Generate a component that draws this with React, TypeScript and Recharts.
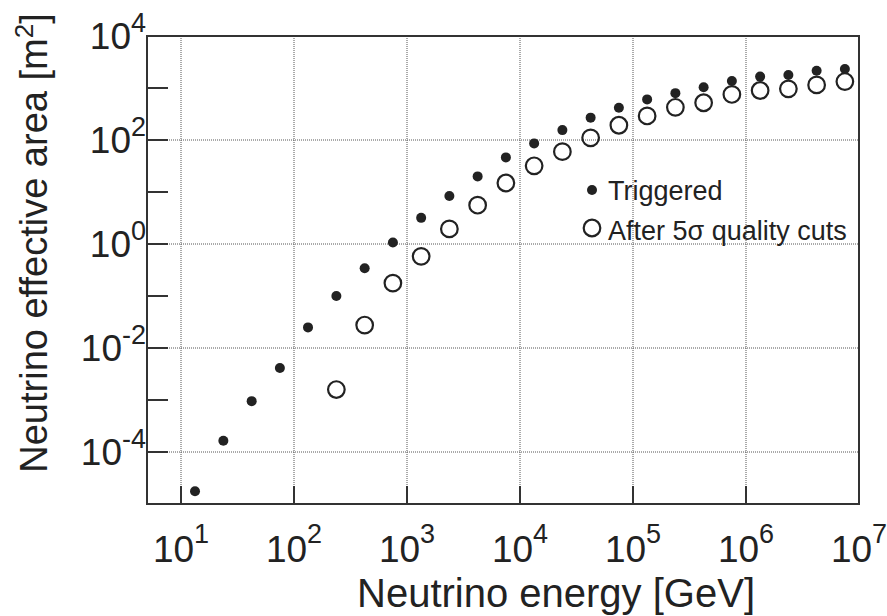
import React from 'react';
import { ScatterChart, Scatter, XAxis, YAxis, CartesianGrid, ReferenceArea, Legend } from 'recharts';

// bin centres, GeV
const energyGeV = [
  13.3, 23.7, 42.2, 75, 133, 237, 422, 750, 1334, 2371, 4217, 7499,
  13335, 23714, 42170, 74989, 133352, 237137, 421697, 749894, 1333521, 2371374, 4216965, 7498942,
];
// effective area, m^2
const triggeredArea = [
  1.76e-5, 1.65e-4, 9.5e-4, 4.13e-3, 0.0249, 0.1, 0.341, 1.07, 3.18, 8.37, 19.95, 46.3,
  86.1, 155, 269, 418, 604, 796, 1035, 1365, 1656, 1778, 2153, 2312,
];
const cutEnergyGeV = [
  237, 422, 750, 1334, 2371, 4217, 7499, 13335, 23714, 42170,
  74989, 133352, 237137, 421697, 749894, 1333521, 2371374, 4216965, 7498942,
];
const cutArea = [
  1.59e-3, 0.0276, 0.177, 0.578, 1.95, 5.58, 14.9, 31.9, 59.7, 110,
  192, 290, 425, 520, 752, 895, 962, 1146, 1330,
];

const seriesNames = ['Triggered', 'After 5σ quality cuts'];
const xTicks = [10, 100, 1e3, 1e4, 1e5, 1e6, 1e7];
const yTicks = [1e-4, 1e-3, 1e-2, 1e-1, 1, 10, 100, 1e3, 1e4];
const yGrid = [1e-4, 1e-2, 1, 100];
const xGrid = [10, 100, 1e3, 1e4, 1e5, 1e6];
const xDomain = [5, 1e7];
const yDomain = [1e-5, 1e4];

const triggeredData = energyGeV.map((e, i) => ({ energy: e, area: triggeredArea[i] }));
const cutData = cutEnergyGeV.map((e, i) => ({ energy: e, area: cutArea[i] }));

const INK = '#222';
const FONT = '"Liberation Sans", Arial, sans-serif';

function XTick(props: any) {
  const { x, y, payload } = props;
  const exp = Math.round(Math.log10(payload.value));
  return (
    <g>
      {exp < 7 && <line x1={x} x2={x} y1={y} y2={y - 18} stroke="#333" strokeWidth={2} />}
      <text x={x} y={y + 58} textAnchor="middle" fontSize={37} fill={INK} fontFamily={FONT}>
        10<tspan dy={-19} fontSize={27}>{exp}</tspan>
      </text>
    </g>
  );
}

function YTick(props: any) {
  const { x, y, payload } = props;
  const exp = Math.round(Math.log10(payload.value));
  return (
    <g>
      {exp < 4 && <line x1={x} x2={x + 21} y1={y} y2={y} stroke="#333" strokeWidth={2} />}
      {exp % 2 === 0 && (
        <text x={x - 1} y={y + 13} textAnchor="end" fontSize={37} fill={INK} fontFamily={FONT}>
          10<tspan dy={-17} fontSize={27}>{exp}</tspan>
        </text>
      )}
    </g>
  );
}

function XTitle() {
  return (
    <text x={556} y={607} textAnchor="middle" fontSize={40} fill={INK} fontFamily={FONT}>
      Neutrino energy [GeV]
    </text>
  );
}

function YTitle() {
  return (
    <text x={47} y={243} transform="rotate(-90 47 243)" textAnchor="middle" fontSize={38} fill={INK} fontFamily={FONT}>
      Neutrino effective area [m<tspan dy={-14} fontSize={26}>2</tspan><tspan dy={14}>]</tspan>
    </text>
  );
}

function LegendBox() {
  return (
    <svg width={290} height={80} style={{ display: 'block' }}>
      <circle cx={17} cy={20} r={5} fill={INK} />
      <text x={33} y={30} fontSize={27} fill={INK} fontFamily={FONT}>{seriesNames[0]}</text>
      <circle cx={17} cy={58} r={8.3} fill="none" stroke={INK} strokeWidth={2.2} />
      <text x={33} y={70} fontSize={27} fill={INK} fontFamily={FONT}>{seriesNames[1]}</text>
    </svg>
  );
}

const dotShape = (p: any) => <circle cx={p.cx} cy={p.cy} r={5} fill={INK} />;
const ringShape = (p: any) => <circle cx={p.cx} cy={p.cy} r={8.3} fill="none" stroke={INK} strokeWidth={2.2} />;

export default function App() {
  return (
    <div style={{ background: '#fff', width: 887, height: 616 }}>
      <style>{'body{margin:0}'}</style>
      <ScatterChart width={887} height={616} margin={{ top: 36, right: 28, bottom: 0, left: 0 }}>
        <CartesianGrid
          stroke="#555"
          strokeDasharray="1 1"
          horizontalValues={yGrid}
          verticalValues={xGrid}
        />
        <XAxis
          type="number"
          dataKey="energy"
          scale="log"
          domain={xDomain}
          ticks={xTicks}
          interval={0}
          allowDataOverflow
          height={112}
          tickSize={0}
          tickMargin={0}
          tickLine={false}
          axisLine={false}
          tick={<XTick />}
          label={<XTitle />}
        />
        <YAxis
          type="number"
          dataKey="area"
          scale="log"
          domain={yDomain}
          ticks={yTicks}
          interval={0}
          allowDataOverflow
          width={147}
          tickSize={0}
          tickMargin={0}
          tickLine={false}
          axisLine={false}
          tick={<YTick />}
          label={<YTitle />}
        />
        <ReferenceArea
          x1={xDomain[0]}
          x2={xDomain[1]}
          y1={yDomain[0]}
          y2={yDomain[1]}
          fill="none"
          stroke="#333"
          strokeWidth={2}
        />
        <Scatter name={seriesNames[0]} data={triggeredData} shape={dotShape} isAnimationActive={false} />
        <Scatter name={seriesNames[1]} data={cutData} shape={ringShape} isAnimationActive={false} />
        <Legend
          layout="vertical"
          align="center"
          verticalAlign="middle"
          content={<LegendBox />}
          wrapperStyle={{ left: 575, top: 170, width: 290, height: 80 }}
        />
      </ScatterChart>
    </div>
  );
}
